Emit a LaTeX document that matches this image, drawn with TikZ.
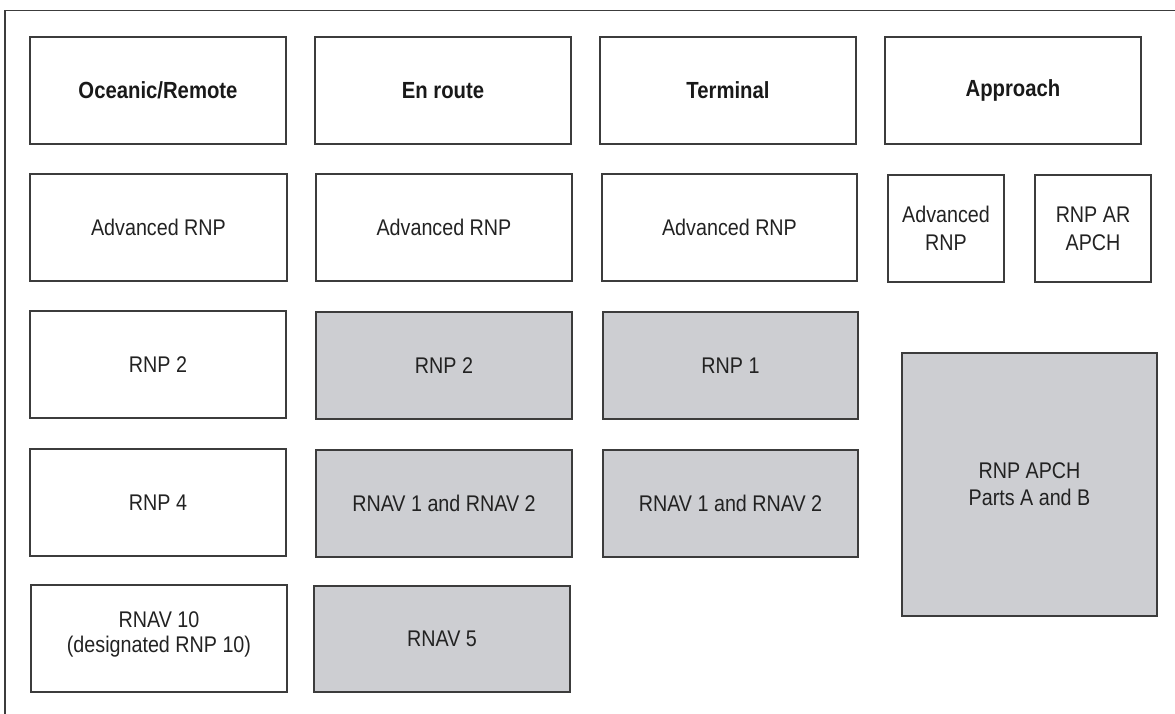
\documentclass[tikz,border=0pt]{standalone}
\usepackage{fontspec}
\setmainfont{Liberation Sans}[FakeStretch=0.87]
\usetikzlibrary{fit}
\definecolor{boxline}{HTML}{3C3C3C}
\definecolor{boxgray}{HTML}{CDCED2}
\definecolor{txt}{HTML}{222222}
\begin{document}
\begin{tikzpicture}[x=0.75pt,y=-0.75pt,
  box/.style={draw=boxline, line width=1.1pt, inner sep=0pt},
  graybox/.style={box, fill=boxgray},
  lbl/.style={inner sep=0pt, text=txt, font=\fontsize{17}{19}\selectfont},
  lbl2/.style={lbl, align=center, font=\fontsize{17}{21}\selectfont},
  ttl/.style={lbl, text=black!90, font=\fontsize{17.5}{20}\selectfont\bfseries}]
\useasboundingbox (0,0) rectangle (1175,714);
\draw[boxline, line width=1.1pt] (5,714) -- (5,10.5) -- (1175,10.5);
% row 1
\node[box, fit={(30,37) (286,144)}] (t1) {};
\node[box, fit={(315,37) (571,144)}] (t2) {};
\node[box, fit={(600,37) (856,144)}] (t3) {};
\node[box, fit={(885,37) (1141,144)}] (t4) {};
\node[ttl] (t1l) at (t1.center) {Oceanic/Remote};
\node[ttl] (t2l) at (t2.center) {En route};
\node[ttl] (t3l) at (t3.center) {Terminal};
\node[ttl] (t4l) at (t4.center) {Approach};
% row 2
\node[box, fit={(30,174) (287,281)}] (a1) {};
\node[box, fit={(316,174) (572,281)}] (a2) {};
\node[box, fit={(602,174) (857,281)}] (a3) {};
\node[box, fit={(888,175) (1004,282)}] (a4) {};
\node[box, fit={(1035,175) (1151,282)}] (a5) {};
\node[lbl] (a1l) at (a1.center) {Advanced RNP};
\node[lbl] (a2l) at (a2.center) {Advanced RNP};
\node[lbl] (a3l) at (a3.center) {Advanced RNP};
\node[lbl2] (a4l) at (a4.center) {Advanced\\RNP};
\node[lbl2] (a5l) at (a5.center) {RNP AR\\APCH};
% row 3
\node[box, fit={(30,311) (286,418)}] (b1) {};
\node[graybox, fit={(316,312) (572,419)}] (b2) {};
\node[graybox, fit={(603,312) (858,419)}] (b3) {};
\node[graybox, fit={(902,353) (1157,616)}] (b4) {};
\node[lbl] (b1l) at (b1.center) {RNP 2};
\node[lbl] (b2l) at (b2.center) {RNP 2};
\node[lbl] (b3l) at (b3.center) {RNP 1};
\node[lbl2, font=\fontsize{17}{20}\selectfont] (b4l) at (b4.center) {RNP APCH\\Parts A and B};
% row 4
\node[box, fit={(30,449) (286,556)}] (c1) {};
\node[graybox, fit={(316,450) (572,557)}] (c2) {};
\node[graybox, fit={(603,450) (858,557)}] (c3) {};
\node[lbl] (c1l) at (c1.center) {RNP 4};
\node[lbl] (c2l) at (c2.center) {RNAV 1 and RNAV 2};
\node[lbl] (c3l) at (c3.center) {RNAV 1 and RNAV 2};
% row 5
\node[box, fit={(31,585) (287,692)}] (d1) {};
\node[graybox, fit={(314,586) (570,692)}] (d2) {};
\node[lbl2, font=\fontsize{17}{19}\selectfont, yshift=3pt] (d1l) at (d1.center) {RNAV 10\\(designated RNP 10)};
\node[lbl] (d2l) at (d2.center) {RNAV 5};
\end{tikzpicture}
\end{document}
